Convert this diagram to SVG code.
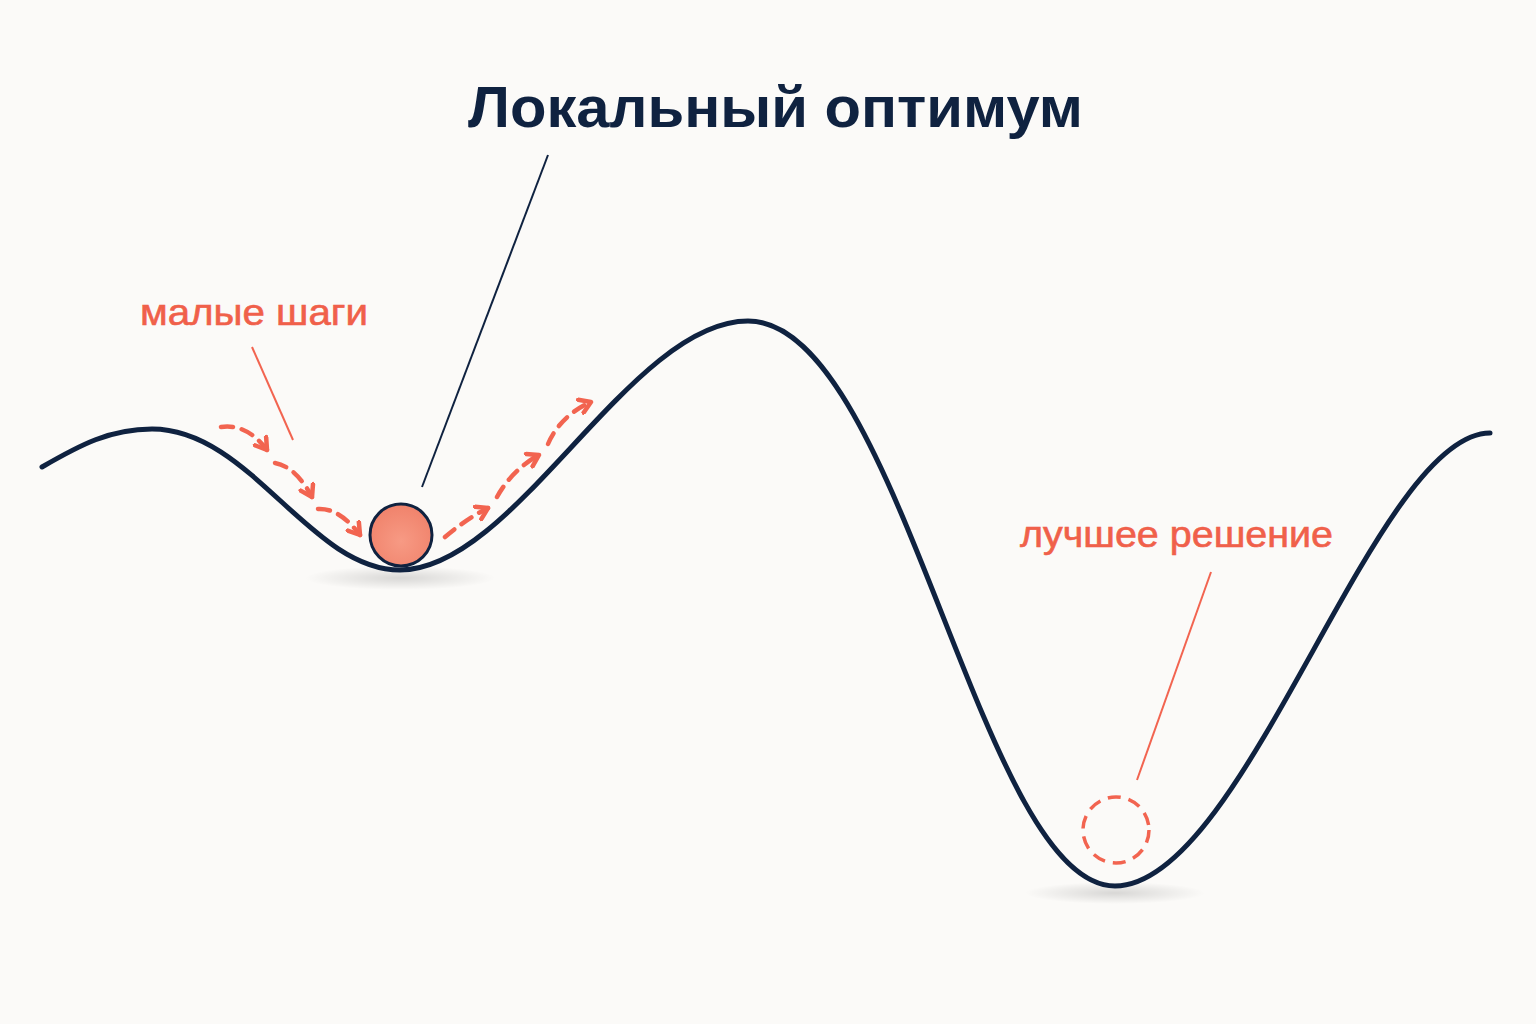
<svg xmlns="http://www.w3.org/2000/svg" width="1536" height="1024" viewBox="0 0 1536 1024">
<defs>
<style>
.curve{fill:none;stroke:#0f2240;stroke-width:5;stroke-linecap:round}
.step{fill:none;stroke:#f26450;stroke-width:4.5;stroke-linecap:round;stroke-dasharray:12 9}
.lbl{font-family:"Liberation Sans",Arial,sans-serif;fill:#f0604a;font-size:37px;stroke:#f0604a;stroke-width:0.6}
.title{font-family:"Liberation Sans",Arial,sans-serif;fill:#0f2240;font-size:57px;font-weight:bold}
</style>
<marker id="ah2" markerWidth="18" markerHeight="18" refX="13" refY="9" orient="auto" markerUnits="userSpaceOnUse" viewBox="0 0 18 18">
<path d="M2,2 L13,9 L2,16" fill="none" stroke="#f26450" stroke-width="4.5" stroke-linecap="round" stroke-linejoin="round"/>
</marker>
<radialGradient id="ball" cx="0.5" cy="0.6" r="0.6">
<stop offset="0" stop-color="#f79a84"/>
<stop offset="1" stop-color="#f0826b"/>
</radialGradient>
<radialGradient id="sh">
<stop offset="0" stop-color="#000" stop-opacity="0.14"/>
<stop offset="1" stop-color="#000" stop-opacity="0"/>
</radialGradient>
</defs>
<rect width="1536" height="1024" fill="#fbfaf8"/>
<ellipse cx="400" cy="578" rx="95" ry="12" fill="url(#sh)"/>
<ellipse cx="1115" cy="893" rx="90" ry="11" fill="url(#sh)"/>
<g id="landscape">
<path class="curve" d="M42,467 C80,445 110,429 152,429 C250,429 310,570 400,570 C515,570 630,321 748,321 C900,321 980,886 1115,886 C1245,886 1375,433 1490,433"/>
</g>
<g id="title">
<text class="title" x="468" y="127" textLength="615" lengthAdjust="spacingAndGlyphs">Локальный оптимум</text>
</g>
<g id="label-small-steps">
<text class="lbl" x="140" y="325" textLength="228" lengthAdjust="spacingAndGlyphs">малые шаги</text>
</g>
<g id="label-best">
<text class="lbl" x="1020" y="547" textLength="313" lengthAdjust="spacingAndGlyphs">лучшее решение</text>
</g>
<g id="ball-node">
<circle cx="401" cy="535" r="31" fill="url(#ball)" stroke="#0f2240" stroke-width="3"/>
</g>
<g id="best-node">
<circle cx="1116" cy="830" r="33" fill="none" stroke="#f26450" stroke-width="3.5" stroke-dasharray="13 8"/>
</g>
<g id="connectors">
<line x1="548" y1="155" x2="422" y2="487" stroke="#0f2240" stroke-width="2"/>
<line x1="252" y1="347" x2="293" y2="440" stroke="#f26450" stroke-width="2"/>
<line x1="1211" y1="572" x2="1137" y2="780" stroke="#f26450" stroke-width="2"/>
<path class="step" marker-end="url(#ah2)" d="M221,427 C240,424 256,435 267,450"/>
<path class="step" marker-end="url(#ah2)" d="M275,463 C292,466 304,482 312,497"/>
<path class="step" marker-end="url(#ah2)" d="M318,509 C336,508 350,522 360,535"/>
<path class="step" marker-end="url(#ah2)" d="M445,537 C458,526 472,516 488,508"/>
<path class="step" marker-end="url(#ah2)" d="M497,497 C506,480 522,464 539,455"/>
<path class="step" marker-end="url(#ah2)" d="M548,444 C556,425 572,410 591,402"/>
</g>
</svg>
